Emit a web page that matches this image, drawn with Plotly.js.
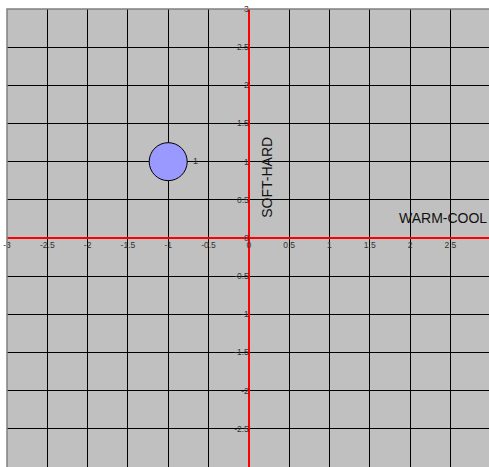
<!DOCTYPE html>
<html>
<head>
<meta charset="utf-8">
<script src="https://cdn.plot.ly/plotly-3.0.1.min.js"></script>
<style>html,body{margin:0;padding:0;background:#fff;}#chart{width:489px;height:467px;}</style>
</head>
<body>
<div id="chart"></div>
<script>
// Data
var pointX = [-1];
var pointY = [1];
var pointLabels = ['1'];

var xTickVals = [-3, -2.5, -2, -1.5, -1, -0.5, 0, 0.5, 1, 1.5, 2, 2.5, 3];
var xTickText = ['-3', '-2.5', '-2', '-1.5', '-1', '-0.5', '0', '0.5', '1', '1.5', '2', '2.5', '3'];
var yTickVals = [-3, -2.5, -2, -1.5, -1, -0.5, 0, 0.5, 1, 1.5, 2, 2.5, 3];
var yTickText = ['-3', '-2.5', '-2', '-1.5', '-1', '-0.5', '0', '0.5', '1', '1.5', '2', '2.5', '3'];

var xTitle = 'WARM-COOL';
var yTitle = 'SOFT-HARD';

var xRange = [-3, 2.98];
var yRange = [-3, 3];

var trace = {
  type: 'scatter',
  mode: 'markers+text',
  x: pointX,
  y: pointY,
  text: pointLabels,
  textposition: 'middle right',
  textfont: {family: 'Liberation Sans, Arial, sans-serif', size: 9, color: '#333'},
  marker: {size: 38, color: '#9999ff', line: {color: '#000', width: 1}},
  cliponaxis: false,
  hoverinfo: 'none'
};

var tickFont = {family: 'Liberation Sans, Arial, sans-serif', size: 8.5, color: '#333'};

var layout = {
  width: 489,
  height: 467,
  margin: {l: 7, r: 0, t: 9, b: 0, pad: 0},
  paper_bgcolor: '#ffffff',
  plot_bgcolor: '#c0c0c0',
  showlegend: false,
  xaxis: {
    range: xRange,
    tickvals: xTickVals,
    ticktext: xTickText,
    tickfont: tickFont,
    showgrid: true,
    gridcolor: '#000000',
    gridwidth: 1,
    zeroline: true,
    zerolinecolor: '#ff0000',
    zerolinewidth: 1.5,
    anchor: 'free',
    position: 0.5,
    side: 'bottom',
    ticks: '',
    showline: false,
    fixedrange: true
  },
  yaxis: {
    range: yRange,
    tickvals: yTickVals,
    ticktext: yTickText,
    tickfont: tickFont,
    showgrid: true,
    gridcolor: '#000000',
    gridwidth: 1,
    zeroline: true,
    zerolinecolor: '#ff0000',
    zerolinewidth: 1.5,
    anchor: 'free',
    position: 3 / 5.98,
    side: 'left',
    ticks: '',
    showline: false,
    fixedrange: true
  },
  shapes: [{
    type: 'rect', xref: 'paper', yref: 'paper', x0: 0, x1: 1.01, y0: -0.01, y1: 1,
    line: {color: '#808080', width: 1.5}, fillcolor: 'rgba(0,0,0,0)', layer: 'above'
  }],
  annotations: [
    {
      text: yTitle, xref: 'x', yref: 'y', x: 0.226, y: 0.79, textangle: -90,
      showarrow: false, font: {family: 'Liberation Sans, Arial, sans-serif', size: 14, color: '#111'}
    },
    {
      text: xTitle, xref: 'paper', yref: 'y', x: 1, y: 0.26, xanchor: 'right',
      showarrow: false, font: {family: 'Liberation Sans, Arial, sans-serif', size: 14, color: '#111'}
    }
  ]
};

Plotly.newPlot('chart', [trace], layout, {displayModeBar: false, staticPlot: true});
</script>
</body>
</html>
